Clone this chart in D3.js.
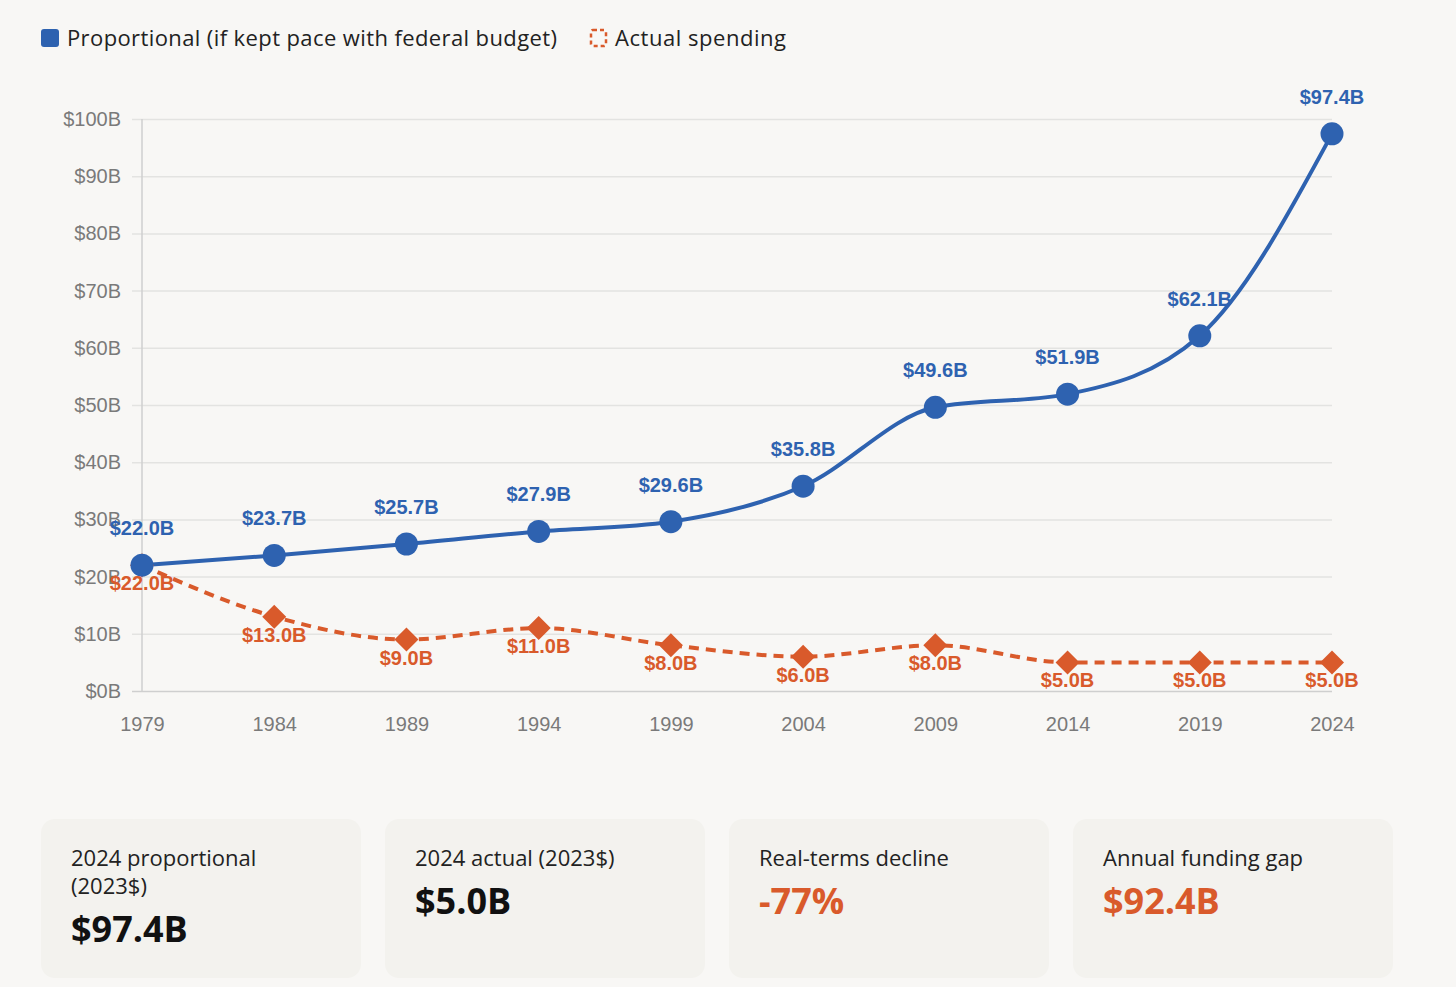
<!DOCTYPE html>
<html>
<head>
<meta charset="utf-8">
<script src="https://cdn.jsdelivr.net/npm/d3@7"></script>
<style>
  body { margin: 0; background: #f8f7f5; }
  svg { display: block; }
</style>
</head>
<body>
<div class="canva"></div>
<script>
var width = 1456;
var height = 987;

// chart data
const years = [1979, 1984, 1989, 1994, 1999, 2004, 2009, 2014, 2019, 2024];
const proportional = [22.0, 23.7, 25.7, 27.9, 29.6, 35.8, 49.6, 51.9, 62.1, 97.4];
const actual = [22.0, 13.0, 9.0, 11.0, 8.0, 6.0, 8.0, 5.0, 5.0, 5.0];
const yTicks = [0, 10, 20, 30, 40, 50, 60, 70, 80, 90, 100];

const legendNames = ['Proportional (if kept pace with federal budget)', 'Actual spending'];

const cardLabels = [['2024 proportional', '(2023$)'], ['2024 actual (2023$)'], ['Real-terms decline'], ['Annual funding gap']];
const cardValues = ['$97.4B', '$5.0B', '-77%', '$92.4B'];

const blue = '#2e62b0';
const red = '#d95a2b';

const svg = d3.select('.canva').append('svg')
  .attr('width', width)
  .attr('height', height);

const x = d3.scaleLinear().domain([1979, 2024]).range([142, 1332]);
const y = d3.scaleLinear().domain([0, 100]).range([691, 119]);

// gridlines + y axis
const yAxis = svg.append('g')
  .attr('transform', 'translate(142,0)')
  .call(d3.axisLeft(y).tickValues(yTicks).tickSize(-1190).tickPadding(21).tickFormat(d => '$' + d + 'B'));
yAxis.select('.domain').remove();
yAxis.selectAll('.tick line')
  .attr('x1', -10)
  .attr('stroke', d => d === 0 ? '#cfcfcf' : '#e3e3e1')
  .attr('stroke-width', 1.5);
yAxis.selectAll('.tick text')
  .attr('fill', '#7a7a7a')
  .style('font', '20px "Liberation Sans", Arial, sans-serif');

svg.append('line')
  .attr('x1', 142).attr('x2', 142)
  .attr('y1', 119).attr('y2', 691)
  .attr('stroke', '#cfcfcf').attr('stroke-width', 1.5);

// x axis
const xAxis = svg.append('g')
  .attr('transform', 'translate(0,691)')
  .call(d3.axisBottom(x).tickValues(years).tickSize(0).tickPadding(26).tickFormat(d3.format('d')));
xAxis.select('.domain').remove();
xAxis.selectAll('.tick text')
  .attr('fill', '#7a7a7a')
  .style('font', '20px "Liberation Sans", Arial, sans-serif');

const line = d3.line()
  .x((d, i) => x(years[i]))
  .y(d => y(d))
  .curve(d3.curveMonotoneX);

// actual spending (dashed)
svg.append('path')
  .datum(actual)
  .attr('d', line)
  .attr('fill', 'none')
  .attr('stroke', red)
  .attr('stroke-width', 4)
  .attr('stroke-dasharray', '10,7');

// proportional line
svg.append('path')
  .datum(proportional)
  .attr('d', line)
  .attr('fill', 'none')
  .attr('stroke', blue)
  .attr('stroke-width', 4);

svg.selectAll('.diamond')
  .data(actual)
  .enter().append('path')
  .attr('class', 'diamond')
  .attr('d', 'M0,-12L12,0L0,12L-12,0Z')
  .attr('transform', (d, i) => 'translate(' + x(years[i]) + ',' + y(d) + ')')
  .attr('fill', red);

svg.selectAll('.dot')
  .data(proportional)
  .enter().append('circle')
  .attr('class', 'dot')
  .attr('cx', (d, i) => x(years[i]))
  .attr('cy', d => y(d))
  .attr('r', 11.5)
  .attr('fill', blue);

// value labels
svg.selectAll('.blabel')
  .data(proportional)
  .enter().append('text')
  .attr('x', (d, i) => x(years[i]))
  .attr('y', d => y(d) - 30)
  .attr('text-anchor', 'middle')
  .attr('fill', blue)
  .style('font', 'bold 20px "Liberation Sans", Arial, sans-serif')
  .text(d => '$' + d.toFixed(1) + 'B');

svg.selectAll('.rlabel')
  .data(actual)
  .enter().append('text')
  .attr('x', (d, i) => x(years[i]))
  .attr('y', d => y(d) + 25)
  .attr('text-anchor', 'middle')
  .attr('fill', red)
  .style('font', 'bold 20px "Liberation Sans", Arial, sans-serif')
  .text(d => '$' + d.toFixed(1) + 'B');

// legend
svg.append('rect')
  .attr('x', 41).attr('y', 29).attr('width', 18).attr('height', 18)
  .attr('rx', 3).attr('fill', blue);
svg.append('text')
  .attr('x', 67).attr('y', 46)
  .attr('fill', '#222')
  .attr('textLength', 490)
  .style('font', '22px "Open Sans", sans-serif')
  .text(legendNames[0]);
svg.append('rect')
  .attr('x', 591).attr('y', 30).attr('width', 15).attr('height', 16)
  .attr('rx', 2)
  .attr('fill', 'none')
  .attr('stroke', red).attr('stroke-width', 2.5)
  .attr('stroke-dasharray', '4,3');
svg.append('text')
  .attr('x', 615).attr('y', 46)
  .attr('fill', '#222')
  .attr('textLength', 171)
  .style('font', '22px "Open Sans", sans-serif')
  .text(legendNames[1]);

// summary cards
const cards = svg.selectAll('.card')
  .data(cardValues)
  .enter().append('g')
  .attr('class', 'card')
  .attr('transform', (d, i) => 'translate(' + (41 + i * 344) + ',819)');

cards.append('rect')
  .attr('width', 320).attr('height', 159)
  .attr('rx', 14)
  .attr('fill', '#f3f2ee');

cards.each(function(d, i) {
  const g = d3.select(this);
  cardLabels[i].forEach((t, j) => {
    g.append('text')
      .attr('x', 30).attr('y', 47 + j * 28)
      .attr('fill', '#222')
      .style('font', '22px "Open Sans", sans-serif')
      .text(t);
  });
  g.append('text')
    .attr('x', 30).attr('y', 95 + (cardLabels[i].length - 1) * 28)
    .attr('fill', i >= 2 ? red : '#111')
    .style('font', '700 36px "Open Sans", sans-serif')
    .text(d);
});
</script>
</body>
</html>
